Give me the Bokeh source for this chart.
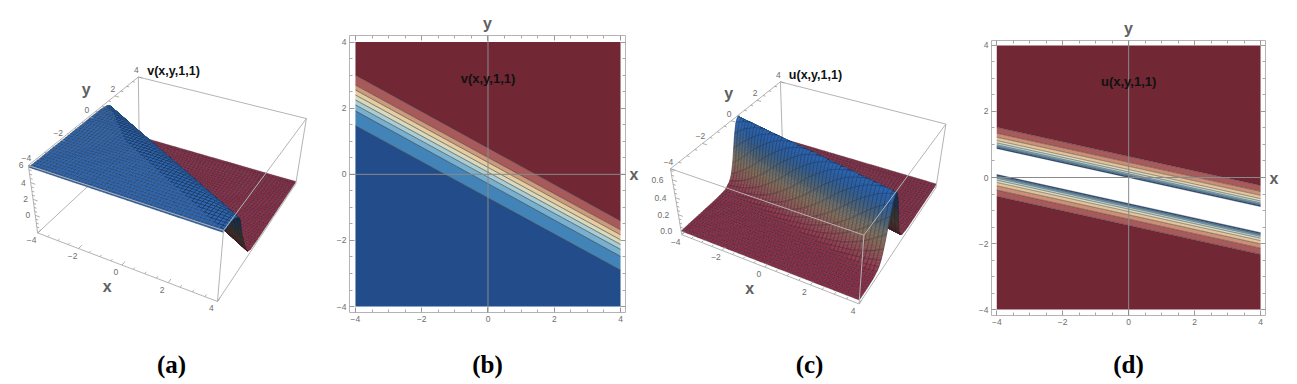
import numpy as np
from bokeh.plotting import figure
from bokeh.layouts import row
from bokeh.models import Range1d, LinearAxis, FixedTicker, Span, Label
from bokeh.core.properties import value
from bokeh.embed import file_html
from bokeh.resources import INLINE

# ---- data ----
TICKS = [-4, -2, 0, 2, 4]
MINOR = [-3.5, -3, -2.5, -1.5, -1, -0.5, 0.5, 1, 1.5, 2.5, 3, 3.5]
X_ENDS = [-4, 4]

# contour lines of v (panel b): y at x=-4 and at x=4, top to bottom
V_LEFT = [3.0, 2.7, 2.55, 2.4, 2.25, 2.1, 1.92, 1.47]
V_RIGHT = [-1.41, -1.68, -1.83, -1.98, -2.12, -2.27, -2.48, -2.9]
V_COLORS = ["#722734", "#a85a5b", "#cf9a7c", "#e6cda0", "#d9d9bd", "#a9cdd0", "#78b0d0", "#4283b8", "#234c8a"]

# contour lines of u (panel d)
U_UP_LEFT = [1.52, 1.34, 1.22, 1.12, 1.05, 0.99, 0.95, 0.91, 0.88]
U_UP_RIGHT = [-0.24, -0.42, -0.54, -0.64, -0.71, -0.77, -0.81, -0.85, -0.88]
U_LOW_LEFT = [-0.57, -0.38, -0.25, -0.15, -0.08, -0.02, 0.02, 0.06, 0.09]
U_LOW_RIGHT = [-2.33, -2.14, -2.01, -1.91, -1.84, -1.78, -1.74, -1.70, -1.67]
U_COLORS = ["#a85a5b", "#cc8f76", "#e3c49b", "#e3dcc0", "#b9d3c9", "#8cbccb", "#4f8dbb", "#244e8a"]
RED = "#722734"

# height profiles across the wave front (s = distance from the wave's centre line in y)
V_S = [-9, -1.4, -0.95, -0.65, -0.45, -0.3, -0.15, 0, 0.15, 0.3, 0.45, 0.75, 1.1, 1.6, 9]
V_Z = [5.8, 5.78, 5.65, 5.3, 4.7, 3.9, 2.6, 1.8, 1.2, 0.4, -0.5, -1.5, -1.9, -2.0, -2.0]
U_S = [-9, -2, -1.6, -1.3, -1.03, -0.9, -0.8, -0.7, -0.6, -0.5, -0.4, -0.3, -0.2, -0.1, 0,
       0.1, 0.2, 0.3, 0.4, 0.5, 0.6, 0.7, 0.8, 0.9, 1.03, 1.3, 1.6, 2, 9]
U_Z = [0, 0.002, 0.007, 0.02, 0.06, 0.1, 0.15, 0.22, 0.3, 0.4, 0.5, 0.58, 0.65, 0.69, 0.71,
       0.69, 0.65, 0.58, 0.5, 0.4, 0.3, 0.22, 0.15, 0.1, 0.06, 0.02, 0.007, 0.002, 0]
V_FRONT = (0.55, -0.05)    # slope, offset of the centre line
U_FRONT = (0.2225, 0.39)

SURF_STOPS = ["#8c2c46", "#8a4650", "#865a54", "#7e6a58", "#6a6a66", "#4f6577", "#38608c", "#2c60a4", "#2c68b4"]

# box corners on the page: (x, y) of bottom-corners then top-corners, for the panel cameras
BOX_XY = [(-4, -4), (4, -4), (4, 4), (-4, 4)]
A_BOTTOM = [(36.7, 231), (218.3, 301.7), (295, 181.7), (138.3, 140)]
A_TOP = [(28.3, 165.7), (221.7, 230), (306, 119), (138.3, 75)]
A_Z = (-2.3, 6.0)
A_ZTICKS = [0, 2, 4, 6]
A_ZMINOR = [-1.5, -1, -0.5, 0.5, 1, 1.5, 2.5, 3, 3.5, 4.5, 5, 5.5]
C_BOTTOM = [(680.7, 233.3), (860, 304), (935, 185), (781.7, 143.3)]
C_TOP = [(670.7, 168.3), (861.7, 235), (946, 125), (780, 80)]
C_Z = (-0.045, 0.72)
C_ZTICKS = [0.0, 0.2, 0.4, 0.6]
C_ZMINOR = [0.05, 0.1, 0.15, 0.25, 0.3, 0.35, 0.45, 0.5, 0.55, 0.65, 0.7]

GREY = "#6e6e6e"
BOX = "#b4b4b4"
SANS = value("Liberation Sans")
SERIF = "Liberation Serif"
N_MESH = 48
HEIGHT = 380
NAME_COLOR = "#606060"


def camera(bottom, top, zr):
    world, img = [], []
    for (xy, b, t) in zip(BOX_XY, bottom, top):
        world += [(xy[0], xy[1], zr[0], 1), (xy[0], xy[1], zr[1], 1)]
        img += [b, t]
    world = np.array(world, float)
    img = np.array(img, float)
    c = img.mean(0)
    uv = img - c
    A = []
    for X, (u, v) in zip(world, uv):
        A.append(list(X) + [0, 0, 0, 0] + list(-u * X))
        A.append([0, 0, 0, 0] + list(X) + list(-v * X))
    P = np.linalg.svd(np.array(A))[2][-1].reshape(3, 4)
    if (P[2] @ np.array([0, 0, 0, 1.0])) < 0:
        P = -P
    return P, c


def proj(cam, x, y, z):
    P, c = cam
    X = np.stack([np.asarray(x, float), np.asarray(y, float), np.asarray(z, float), np.ones_like(np.asarray(x, float))], -1)
    h = X @ P.T
    return h[..., 0] / h[..., 2] + c[0], h[..., 1] / h[..., 2] + c[1]


def cmap(t):
    rgb = np.array([[int(s[i:i + 2], 16) for i in (1, 3, 5)] for s in SURF_STOPS], float)
    pos = np.linspace(0, 1, len(SURF_STOPS))
    return np.stack([np.interp(t, pos, rgb[:, i]) for i in range(3)], -1)


def hexcol(c):
    return "#%02x%02x%02x" % tuple(int(v) for v in c)


def surface(p, cam, S, Z, front):
    g = np.linspace(-4, 4, N_MESH + 1)
    height = lambda xx, yy: np.interp(yy + front[0] * xx + front[1], S, Z)
    X, Y = np.meshgrid(g, g, indexing="ij")
    H = height(X, Y)
    px, py = proj(cam, X, Y, H)
    zlo, zhi = min(Z), max(Z)
    P = cam[0]
    C = np.linalg.svd(P)[2][-1]
    C = C[:3] / C[3]
    d = (g[1] - g[0])
    zscale = 8.0 / (zhi - zlo) * 0.55
    L = np.array([0.0, -0.5, 0.86])
    MESH = "#1a1a24"
    quads = []
    for i in range(N_MESH):
        for j in range(N_MESH):
            mx, my = (g[i] + g[i + 1]) / 2, (g[j] + g[j + 1]) / 2
            mz = H[i:i + 2, j:j + 2].mean()
            dzx = (H[i + 1, j] + H[i + 1, j + 1] - H[i, j] - H[i, j + 1]) / (2 * d) * zscale
            dzy = (H[i, j + 1] + H[i + 1, j + 1] - H[i, j] - H[i + 1, j]) / (2 * d) * zscale
            n = np.array([-dzx, -dzy, 1.0])
            n /= np.linalg.norm(n)
            f = np.clip(0.5 + 0.5 * (n @ L) / 0.35, 0.5, 1.0)
            quads.append((np.linalg.norm(np.array([mx, my, mz]) - C), i, j, f))
    quads.sort(key=lambda q: -q[0])
    xs, ys, fills, falpha, lcol, lalpha = [], [], [], [], [], []

    def emit(qx, qy, fill, fa, lc, la):
        xs.append(list(qx))
        ys.append(list(qy))
        fills.append(fill)
        falpha.append(fa)
        lcol.append(lc)
        lalpha.append(la)

    for _, i, j, f in quads:
        cx = [px[i, j], px[i + 1, j], px[i + 1, j + 1], px[i, j + 1]]
        cy = [py[i, j], py[i + 1, j], py[i + 1, j + 1], py[i, j + 1]]
        span = H[i:i + 2, j:j + 2].max() - H[i:i + 2, j:j + 2].min()
        if span <= 0.03 * (zhi - zlo):
            col = hexcol(cmap((H[i:i + 2, j:j + 2].mean() - zlo) / (zhi - zlo)) * f)
            emit(cx, cy, col, 1.0, MESH, 0.55)
        else:
            e = np.linspace(g[j + 1], g[j], 6)   # far strip first
            for k in range(5):
                sx = np.array([g[i], g[i + 1], g[i + 1], g[i]])
                sy = np.array([e[k + 1], e[k + 1], e[k], e[k]])
                sz = height(sx, sy)
                qx, qy = proj(cam, sx, sy, sz)
                col = hexcol(cmap((sz.mean() - zlo) / (zhi - zlo)) * f)
                emit(qx, qy, col, 1.0, col, 1.0)
            emit(cx, cy, "#000000", 0.0, MESH, 0.45)
    p.patches(xs, ys, fill_color=fills, fill_alpha=falpha, line_color=lcol, line_alpha=lalpha, line_width=0.55)


def panel3d(left, width, bottom, top, zr, zticks, zminor, S, Z, front, title, tpos, xpos, ypos, cap, cap_x, zfmt, zdx):
    p = figure(width=width, height=HEIGHT, output_backend="svg", toolbar_location=None,
               x_range=Range1d(left, left + width), y_range=Range1d(HEIGHT, 0),
               x_axis_location=None, y_axis_location=None, min_border=0, frame_align=False)
    p.grid.visible = False
    p.outline_line_color = None
    cam = camera(bottom, top, zr)

    def edge(a, b):
        xa, ya = proj(cam, *a)
        xb, yb = proj(cam, *b)
        return [float(xa), float(xb)], [float(ya), float(yb)]

    lo, hi = zr
    back = [((-4, 4, lo), (-4, 4, hi)), ((-4, 4, lo), (4, 4, lo)), ((-4, 4, lo), (-4, -4, lo)),
            ((-4, -4, lo), (4, -4, lo)), ((4, -4, lo), (4, 4, lo))]
    front_e = [((-4, -4, lo), (-4, -4, hi)), ((4, -4, lo), (4, -4, hi)), ((4, 4, lo), (4, 4, hi)),
               ((-4, -4, hi), (4, -4, hi)), ((4, -4, hi), (4, 4, hi)), ((4, 4, hi), (-4, 4, hi)),
               ((-4, 4, hi), (-4, -4, hi))]
    ex, ey = zip(*[edge(*e) for e in back])
    p.multi_line(list(ex), list(ey), line_color=BOX, line_width=1)
    surface(p, cam, S, Z, front)
    ex, ey = zip(*[edge(*e) for e in front_e])
    p.multi_line(list(ex), list(ey), line_color=BOX, line_width=1)

    tx, ty = [], []
    for v, ln in [(t, 0.22) for t in TICKS] + [(t, 0.12) for t in MINOR]:
        for a, b in [((v, -4, lo), (v, -4 + ln, lo)), ((-4, v, hi), (-4 + ln, v, hi))]:
            ax, ay = edge(a, b)
            tx.append(ax)
            ty.append(ay)
    for v, ln in [(t, 0.22) for t in zticks] + [(t, 0.12) for t in zminor]:
        ax, ay = edge((-4, -4, v), (-4 + ln, -4, v))
        tx.append(ax)
        ty.append(ay)
    p.multi_line(tx, ty, line_color="#9a9a9a", line_width=0.8)

    lx, ly = proj(cam, np.array(TICKS, float), np.full(5, -4.0), np.full(5, lo))
    p.text(lx - 6, ly + 7, text=[str(t).replace("-", "\u2212") for t in TICKS], text_font=SANS, text_font_size="8.5px",
           text_color=GREY, text_align="center", text_baseline="middle")
    lx, ly = proj(cam, np.full(5, -4.0), np.array(TICKS, float), np.full(5, hi))
    p.text(lx - 2, ly - 7, text=[str(t).replace("-", "\u2212") for t in TICKS], text_font=SANS, text_font_size="8.5px",
           text_color=GREY, text_align="center", text_baseline="middle")
    lx, ly = proj(cam, np.full(len(zticks), -4.0), np.full(len(zticks), -4.0), np.array(zticks, float))
    p.text(lx + zdx, ly, text=[zfmt % t for t in zticks], text_font=SANS, text_font_size="8.5px",
           text_color=GREY, text_align="right", text_baseline="middle")

    for txt, (x, y), size, style, col, font in [
        (title, tpos, "12.5px", "bold", "#111111", "Liberation Sans"),
        ("x", xpos, "16px", "bold", NAME_COLOR, "Liberation Sans"),
        ("y", ypos, "16px", "bold", NAME_COLOR, "Liberation Sans"),
        (cap, (cap_x, 364), "25px", "bold", "#000000", SERIF),
    ]:
        p.add_layout(Label(x=x, y=y, text=txt, text_font=font, text_font_size=size, text_font_style=style,
                           text_color=col, text_align="center", text_baseline="middle"))
    return p


def panel2d(width, borders, xr, yr, cap, cap_standoff):
    l, r, t, b = borders
    p = figure(width=width, height=HEIGHT, output_backend="svg", toolbar_location=None,
               x_range=Range1d(*xr), y_range=Range1d(*yr), min_border_left=l, min_border_right=r,
               min_border_top=t, min_border_bottom=b, x_axis_location=None, y_axis_location=None,
               frame_align=False)
    p.grid.visible = False
    p.outline_line_color = None
    ticker = FixedTicker(ticks=TICKS, minor_ticks=MINOR)
    overrides = {t: str(t).replace("-", "\u2212") for t in TICKS}
    for side, labelled, name in [("below", True, cap), ("left", True, None), ("above", False, "y"), ("right", False, "x")]:
        ax = LinearAxis(ticker=ticker, axis_line_color=BOX, axis_line_width=1,
                        major_tick_line_color="#9a9a9a", minor_tick_line_color="#a8a8a8",
                        major_tick_in=5, major_tick_out=0, minor_tick_in=3, minor_tick_out=0,
                        major_label_text_font="Liberation Sans", major_label_text_font_size="8.5px",
                        major_label_text_color=GREY, major_label_standoff=3, major_label_overrides=overrides,
                        major_label_orientation="horizontal")
        if not labelled:
            ax.major_label_text_color = None
            ax.major_label_text_font_size = "1px"
            ax.major_label_standoff = 0
        if name:
            ax.axis_label = name
            ax.axis_label_text_font_style = "bold"
            ax.axis_label_text_font = "Liberation Sans"
            ax.axis_label_text_font_size = "16px"
            ax.axis_label_text_color = NAME_COLOR
            ax.axis_label_standoff = 4
            if side == "right":
                ax.axis_label_orientation = "horizontal"
            if side == "below":
                ax.axis_label_text_font = SERIF
                ax.axis_label_text_font_size = "25px"
                ax.axis_label_text_color = "#000000"
                ax.axis_label_standoff = cap_standoff
        p.add_layout(ax, side)
    return p


def band(p, y1l, y1r, y2l, y2r, color):
    p.varea(x=X_ENDS, y1=[y1l, y1r], y2=[y2l, y2r], fill_color=color)


def annotate(p, title, tpos):
    p.add_layout(Span(location=0, dimension="width", line_color="#8a8a8a", line_width=1))
    p.add_layout(Span(location=0, dimension="height", line_color="#8a8a8a", line_width=1))
    p.add_layout(Label(x=tpos[0], y=tpos[1], text=title, text_font="Liberation Sans", text_font_size="13px",
                       text_font_style="bold", text_color="#111111", text_align="center", text_baseline="middle"))


# panel a
pa = panel3d(0, 320, A_BOTTOM, A_TOP, A_Z, A_ZTICKS, A_ZMINOR, V_S, V_Z, V_FRONT, "v(x,y,1,1)",
             (173, 70), (106.7, 286), (85.7, 89.3), "(a)", 171, "%d", -5)

# panel b
pb = panel2d(330, (29, 25, 35, 68), (-4.18, 4.15), (-4.18, 4.2), "(b)", 26)
band(pb, 4, 4, V_LEFT[0], V_RIGHT[0], V_COLORS[0])
for i in range(len(V_LEFT) - 1):
    band(pb, V_LEFT[i], V_RIGHT[i], V_LEFT[i + 1], V_RIGHT[i + 1], V_COLORS[i + 1])
band(pb, V_LEFT[-1], V_RIGHT[-1], -4, -4, V_COLORS[-1])
pb.multi_line([X_ENDS] * len(V_LEFT), [[a, b] for a, b in zip(V_LEFT, V_RIGHT)], line_color="#2c2c34", line_width=0.7, line_alpha=0.8)
annotate(pb, "v(x,y,1,1)", (0, 2.9))

# panel c
pc = panel3d(650, 310, C_BOTTOM, C_TOP, C_Z, C_ZTICKS, C_ZMINOR, U_S, U_Z, U_FRONT, "u(x,y,1,1)",
             (815, 74.7), (749.3, 288), (728.3, 93.3), "(c)", 809, "%.1f", -9)

# panel d
pd_ = panel2d(336, (31, 31, 40, 65), (-4.16, 4.15), (-4.18, 4.15), "(d)", 23)
band(pd_, 4, 4, U_UP_LEFT[0], U_UP_RIGHT[0], RED)
band(pd_, U_LOW_LEFT[0], U_LOW_RIGHT[0], -4, -4, RED)
for i in range(len(U_UP_LEFT) - 1):
    band(pd_, U_UP_LEFT[i], U_UP_RIGHT[i], U_UP_LEFT[i + 1], U_UP_RIGHT[i + 1], U_COLORS[i])
    band(pd_, U_LOW_LEFT[i], U_LOW_RIGHT[i], U_LOW_LEFT[i + 1], U_LOW_RIGHT[i + 1], U_COLORS[i])
pd_.multi_line([X_ENDS] * 18, [[a, b] for a, b in zip(U_UP_LEFT + U_LOW_LEFT, U_UP_RIGHT + U_LOW_RIGHT)],
               line_color="#2c2c34", line_width=0.6, line_alpha=0.75)
annotate(pd_, "u(x,y,1,1)", (0, 2.9))

layout = row(pa, pb, pc, pd_, spacing=0)
open("out.html", "w").write(file_html(layout, INLINE))
